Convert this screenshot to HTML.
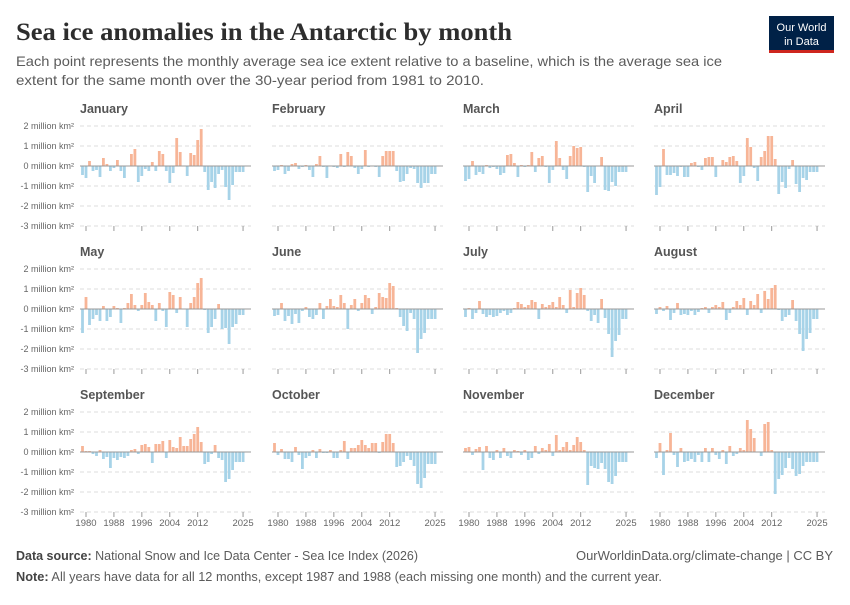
<!DOCTYPE html>
<html><head><meta charset="utf-8"><style>
body{margin:0;background:#fff;width:850px;height:600px;overflow:hidden;font-family:"Liberation Sans",sans-serif}
</style></head><body>
<svg id="s" width="850" height="600" xmlns="http://www.w3.org/2000/svg">
<text x="16" y="40" font-family="Liberation Serif,serif" font-size="25" font-weight="bold" fill="#2d2d2d" textLength="496" lengthAdjust="spacingAndGlyphs">Sea ice anomalies in the Antarctic by month</text>
<text x="16" y="66" font-size="14" fill="#5b5b5b" textLength="706" lengthAdjust="spacingAndGlyphs">Each point represents the monthly average sea ice extent relative to a baseline, which is the average sea ice</text>
<text x="16" y="85" font-size="14" fill="#5b5b5b" textLength="468" lengthAdjust="spacingAndGlyphs">extent for the same month over the 30-year period from 1981 to 2010.</text>
<rect x="769" y="16" width="65" height="36" fill="#002147"/>
<rect x="769" y="50" width="65" height="3" fill="#ce261e"/>
<text x="801.5" y="31" font-size="11" fill="#fff" text-anchor="middle">Our World</text>
<text x="801.5" y="45" font-size="11" fill="#fff" text-anchor="middle">in Data</text>
<text x="16" y="560" font-size="12.5" fill="#5b5b5b" textLength="402" lengthAdjust="spacingAndGlyphs"><tspan font-weight="bold" fill="#444">Data source:</tspan> National Snow and Ice Data Center - Sea Ice Index (2026)</text>
<text x="833" y="560" font-size="12.5" fill="#5b5b5b" text-anchor="end" textLength="257" lengthAdjust="spacingAndGlyphs">OurWorldinData.org/climate-change | CC BY</text>
<text x="16" y="581" font-size="12.5" fill="#5b5b5b" textLength="646" lengthAdjust="spacingAndGlyphs"><tspan font-weight="bold" fill="#444">Note:</tspan> All years have data for all 12 months, except 1987 and 1988 (each missing one month) and the current year.</text>
<g id="g"></g>
</svg>
<script>
var D={
January:[-0.45,-0.6,0.25,-0.25,-0.2,-0.55,0.4,0.1,-0.25,-0.1,0.3,-0.25,-0.6,0,0.6,0.85,-0.8,-0.5,-0.15,-0.25,0.2,-0.25,0.75,0.6,-0.25,-0.85,-0.35,1.4,0.7,0,-0.5,0.65,0.55,1.3,1.85,-0.3,-1.2,-0.8,-1.1,-0.4,-0.2,-1.05,-1.7,-0.95,-0.3,-0.3,-0.3],
February:[-0.25,-0.2,0.05,-0.4,-0.25,0.1,0.15,-0.15,-0.05,0.05,-0.2,-0.55,0.1,0.5,-0.05,-0.6,0,-0.05,-0.1,0.6,-0.05,0.7,0.5,-0.1,-0.4,-0.15,0.8,-0.05,0,-0.05,-0.55,0.5,0.75,0.75,0.75,-0.25,-0.8,-0.75,-0.4,-0.1,-0.15,-0.85,-1.1,-0.85,-0.85,-0.4,-0.4],
March:[-0.75,-0.65,0.25,-0.45,-0.3,-0.4,0.05,-0.1,-0.05,-0.15,-0.45,-0.35,0.55,0.6,0.15,-0.55,0.05,-0.05,0.05,0.7,-0.3,0.4,0.5,-0.05,-0.85,-0.2,1.25,0.4,-0.2,-0.65,0.5,1,0.9,0.95,-0.05,-1.3,-0.5,-0.85,0,0.45,-1.2,-1.25,-0.8,-1,-0.3,-0.3,-0.3],
April:[-1.45,-1.05,0.85,-0.45,-0.45,-0.35,-0.5,-0.05,-0.55,-0.55,0.15,0.2,-0.05,-0.2,0.4,0.45,0.45,-0.55,0,0.3,0.2,0.45,0.5,0.25,-0.85,-0.5,1.4,0.95,-0.1,-0.75,0.45,0.75,1.5,1.5,0.35,-1.4,-0.8,-1.1,-0.15,0.3,-0.9,-1.3,-0.6,-0.7,-0.3,-0.3,-0.3],
May:[-1.2,0.6,-0.8,-0.5,-0.3,-0.6,0.15,-0.6,-0.4,0.15,0.05,-0.7,0.05,0.3,0.75,0.2,-0.1,0.2,0.8,0.35,0.2,-0.6,0.3,-0.1,-0.9,0.85,0.7,-0.2,0.6,0,-0.9,0.3,0.6,1.3,1.55,-0.05,-1.2,-0.9,-0.5,0.25,-1,-0.95,-1.75,-0.9,-0.75,-0.3,-0.3],
June:[-0.35,-0.3,0.3,-0.6,-0.35,-0.75,-0.25,-0.7,-0.1,0.1,-0.4,-0.5,-0.3,0.3,-0.5,0.15,0.5,0.15,0.1,0.7,0.3,-1,0.2,0.5,-0.1,0.3,0.7,0.55,-0.25,0.1,0.8,0.6,0.55,1.3,1.15,0.05,-0.4,-0.85,-1.1,-0.2,-0.5,-2.2,-1.5,-1.2,-0.5,-0.5,-0.5],
July:[-0.4,0.05,-0.5,-0.2,0.4,-0.25,-0.4,-0.3,-0.4,-0.35,-0.2,-0.1,-0.3,-0.2,0.05,0.35,0.25,0.1,0.2,0.45,0.35,-0.5,0.25,0.1,0.2,0.35,0.1,0.6,0.2,-0.2,0.95,0.1,0.8,1.05,0.7,-0.1,-0.6,-0.3,-0.7,0.5,-0.45,-1.25,-2.4,-1.6,-1.3,-0.5,-0.5],
August:[-0.25,0.1,-0.1,0.15,-0.55,-0.2,0.3,-0.3,-0.25,-0.3,-0.1,-0.3,-0.15,0.05,0.1,-0.2,0.1,0.2,0.1,0.35,-0.55,-0.2,0.1,0.4,0.2,0.55,-0.3,0.4,0.2,0.75,-0.2,0.9,0.5,1.05,1.2,-0.05,-0.6,-0.4,-0.3,0.45,-0.6,-1.25,-2.1,-1.5,-1.2,-0.5,-0.5],
September:[0.3,0.05,0.05,-0.1,-0.2,0.1,-0.35,-0.25,-0.8,-0.3,-0.4,-0.25,-0.3,-0.2,0.1,0.15,-0.1,0.35,0.4,0.25,-0.55,0.4,0.4,0.55,-0.3,0.6,0.25,0.2,0.75,0.3,0.3,0.65,0.9,1.25,0.5,-0.6,-0.5,-0.1,0.35,-0.3,-0.4,-1.5,-1.35,-0.9,-0.5,-0.5,-0.5],
October:[0.45,-0.15,0.15,-0.35,-0.35,-0.5,0.25,-0.15,-0.85,-0.3,-0.2,0.1,-0.3,0.15,-0.05,-0.05,0.1,-0.3,-0.3,0.1,0.55,-0.35,0.2,0.2,0.35,0.6,0.35,0.2,0.45,0.45,-0.05,0.5,0.9,0.9,0.45,-0.75,-0.7,-0.5,-0.2,-0.4,-0.7,-1.6,-1.8,-1.3,-0.6,-0.6,-0.6],
November:[0.2,0.25,-0.15,0.15,0.25,-0.9,0.3,-0.3,-0.4,0.1,-0.3,0.2,-0.2,-0.3,0.1,0.05,-0.15,0.1,-0.4,-0.3,0.3,-0.1,0.2,0.1,0.4,-0.2,0.85,0.1,0.25,0.5,0.1,0.35,0.75,0.5,0.1,-1.65,-0.7,-0.8,-0.85,-0.55,-0.85,-1.5,-1.6,-1.2,-0.5,-0.5,-0.5],
December:[-0.3,0.45,-1.15,0.1,0.95,-0.15,-0.75,0.2,-0.5,-0.45,-0.35,-0.5,-0.15,-0.5,0.2,-0.5,0.2,-0.15,-0.35,0.1,-0.6,0.3,-0.2,-0.1,0.2,0.1,1.6,1.15,0.7,0,-0.2,1.4,1.5,0.1,-2.1,-1.35,-1.15,-0.8,-0.3,-0.85,-1.2,-1.1,-0.7,-0.5,-0.5,-0.5,-0.5]
};
var months=Object.keys(D),cols=[80,272,463,654],rows=[166,309,452],W=171,h='';
function t(x,y,s,a,c,f,w){return '<text x="'+x+'" y="'+y+'" font-size="'+f+'" fill="'+c+'" text-anchor="'+a+'"'+(w?' font-weight="bold"':'')+'>'+s+'</text>';}
months.forEach(function(m,i){
 var x0=cols[i%4],y0=rows[Math.floor(i/4)],r=Math.floor(i/4);
 h+=t(x0,y0-53,m,'start','#555',12.5,1);
 for(var k=-3;k<=2;k++){var y=y0-k*20;
  if(k!=0)h+='<line x1="'+x0+'" x2="'+(x0+W)+'" y1="'+y+'" y2="'+y+'" stroke="#ddd" stroke-dasharray="4,3"/>';
  if(i%4==0)h+='<text x="74" y="'+(y+3)+'" font-size="9" fill="#666" text-anchor="end">'+(k==0?'0':k)+' million km²</text>';}
 var px=function(yr){return x0+6+(yr-1980)*3.49;};
 var d=D[m];
 for(var j=0;j<47;j++){var v=d[j]||0,x=px(1979+j)-1.4,hh=Math.abs(v)*20;
  h+='<rect x="'+x.toFixed(1)+'" y="'+(v>0?y0-hh:y0).toFixed(1)+'" width="2.8" height="'+hh.toFixed(1)+'" fill="'+(v>0?'#f7b597':'#a7d3e8')+'"/>';}
 h+='<line x1="'+x0+'" x2="'+(x0+W)+'" y1="'+y0+'" y2="'+y0+'" stroke="#999" stroke-width="1"/>';
 [1980,1988,1996,2004,2012,2025].forEach(function(yr){var x=px(yr);
  h+='<line x1="'+x+'" x2="'+x+'" y1="'+(y0+60)+'" y2="'+(y0+65)+'" stroke="#999"/>';
  if(r==2)h+=t(x,y0+74,yr,'middle','#666',9.5,0);});
});
document.getElementById('g').innerHTML=h;
</script>
</body></html>
